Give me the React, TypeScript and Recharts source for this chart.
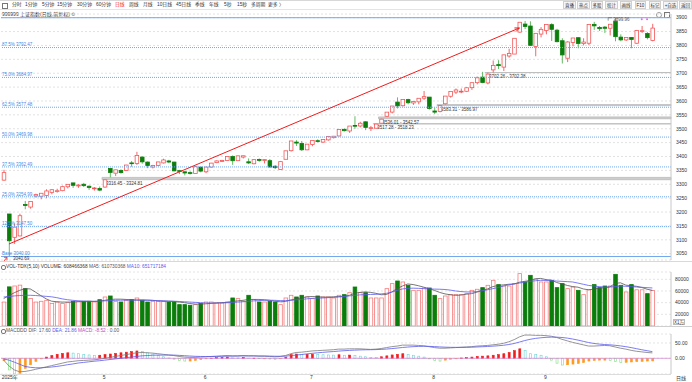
import React from 'react'
import {
  Bar,
  CartesianGrid,
  ComposedChart,
  Line,
  ReferenceArea,
  ReferenceDot,
  ReferenceLine,
  XAxis,
  YAxis,
} from 'recharts'

// 日线 (2025-04-03 ~ 2025-09-29)
const dates = [
  '04-03', '04-07', '04-08', '04-09', '04-10', '04-11', '04-14', '04-15', '04-16', '04-17', '04-18', '04-21', '04-22', '04-23', '04-24', '04-25', '04-28', '04-29', '04-30',
  '05-06', '05-07', '05-08', '05-09', '05-12', '05-13', '05-14', '05-15', '05-16', '05-19', '05-20', '05-21', '05-22', '05-23', '05-26', '05-27', '05-28', '05-29', '05-30',
  '06-03', '06-04', '06-05', '06-06', '06-09', '06-10', '06-11', '06-12', '06-13', '06-16', '06-17', '06-18', '06-19', '06-20', '06-23', '06-24', '06-25', '06-26', '06-27', '06-30',
  '07-01', '07-02', '07-03', '07-04', '07-07', '07-08', '07-09', '07-10', '07-11', '07-14', '07-15', '07-16', '07-17', '07-18', '07-21', '07-22', '07-23', '07-24', '07-25', '07-28', '07-29', '07-30', '07-31',
  '08-01', '08-04', '08-05', '08-06', '08-07', '08-08', '08-11', '08-12', '08-13', '08-14', '08-15', '08-18', '08-19', '08-20', '08-21', '08-22', '08-25', '08-26', '08-27', '08-28', '08-29',
  '09-01', '09-02', '09-03', '09-04', '09-05', '09-08', '09-09', '09-10', '09-11', '09-12', '09-15', '09-16', '09-17', '09-18', '09-19', '09-22', '09-23', '09-24', '09-25', '09-26', '09-29',
]
// 右侧留白的空位
const padSlots = ['p1', 'p2', 'p3']

const open = [
  3315, 3193, 3109, 3114, 3227, 3218, 3258, 3257, 3260, 3271, 3274, 3277, 3291, 3305, 3294, 3300, 3293, 3284, 3285,
  3290, 3357, 3340, 3350, 3350, 3377, 3375, 3398, 3380, 3362, 3368, 3377, 3384, 3380, 3349, 3345, 3342, 3339, 3362,
  3345, 3362, 3378, 3383, 3386, 3400, 3385, 3398, 3381, 3374, 3389, 3386, 3385, 3365, 3353, 3390, 3421, 3452, 3447, 3424,
  3443, 3457, 3452, 3460, 3468, 3474, 3497, 3492, 3512, 3510, 3525, 3502, 3502, 3520, 3545, 3560, 3596, 3583, 3605, 3593, 3597, 3610, 3614,
  3564, 3562, 3590, 3617, 3632, 3633, 3635, 3648, 3666, 3686, 3665, 3712, 3731, 3722, 3762, 3769, 3848, 3877, 3870, 3796, 3841,
  3854, 3875, 3855, 3817, 3754, 3811, 3828, 3807, 3808, 3876, 3865, 3866, 3862, 3887, 3830, 3820, 3829, 3808, 3851, 3843, 3818,
]
const high = [
  3352, 3193, 3159, 3194, 3240, 3239, 3266, 3268, 3282, 3283, 3284, 3295, 3300, 3305, 3300, 3305, 3296, 3290, 3292,
  3316.45, 3358, 3353, 3354, 3370, 3384, 3417, 3400, 3382, 3370, 3381, 3392, 3388, 3381, 3352, 3346, 3347, 3366, 3362,
  3364, 3377, 3386, 3388, 3400, 3404, 3404, 3404, 3393, 3390, 3393, 3390, 3391, 3369, 3384, 3421, 3456, 3459, 3456, 3445,
  3458, 3462, 3462, 3474, 3474, 3497, 3502, 3510, 3545, 3525, 3527, 3510, 3517.28, 3536.01, 3560, 3582, 3613, 3606, 3608, 3600, 3610, 3636, 3614,
  3576, 3583.31, 3618, 3634, 3645, 3645, 3650, 3667, 3688, 3705, 3702.26, 3746, 3747, 3767, 3788, 3826, 3884, 3888, 3887, 3845, 3866,
  3876, 3880, 3860, 3826, 3815, 3827, 3830, 3826, 3876, 3885, 3870, 3870, 3877, 3899.96, 3840, 3830, 3830, 3856, 3870, 3848, 3878,
]
const low = [
  3313, 3040.69, 3085, 3113, 3210, 3212, 3252, 3246, 3250, 3264, 3270, 3275, 3285, 3287, 3287, 3290, 3280, 3277, 3275,
  3288, 3324.81, 3330, 3338, 3348, 3363, 3370, 3374, 3358, 3357, 3365, 3375, 3376, 3347, 3337, 3332, 3335, 3339, 3343,
  3340, 3360, 3376, 3380, 3385, 3370, 3385, 3393, 3373, 3372, 3381, 3375, 3362, 3355, 3352, 3390, 3418, 3438, 3420, 3423,
  3437, 3451, 3449, 3457, 3465, 3473, 3490, 3485, 3500, 3505, 3495, 3492, 3500, 3518.23, 3542.57, 3555, 3573, 3580, 3588, 3586, 3588, 3604, 3569,
  3553, 3559, 3586.97, 3612, 3625, 3628, 3632, 3640, 3660, 3664, 3660, 3702.38, 3715, 3708, 3756, 3769, 3846, 3859, 3800, 3761, 3829,
  3840, 3816, 3811, 3735, 3740, 3797, 3790, 3800, 3801, 3856, 3852, 3845, 3836, 3815, 3815, 3816, 3790, 3805, 3845, 3822, 3815,
]
const close = [
  3342.01, 3096.58, 3145.55, 3186.81, 3223.64, 3238.23, 3262.81, 3267.66, 3276.0, 3280.34, 3276.73, 3291.43, 3299.76, 3296.36, 3297.29, 3295.06, 3288.41, 3286.65, 3279.03,
  3316.11, 3342.67, 3352.0, 3342.0, 3369.24, 3374.87, 3403.95, 3380.82, 3367.46, 3367.58, 3380.48, 3387.57, 3380.19, 3348.37, 3346.84, 3340.69, 3339.93, 3363.45, 3347.49,
  3361.98, 3376.2, 3384.1, 3385.36, 3399.77, 3384.82, 3402.32, 3402.66, 3377.0, 3388.81, 3387.4, 3388.81, 3362.11, 3359.9, 3381.58, 3420.57, 3455.97, 3448.45, 3424.23, 3444.43,
  3457.75, 3454.79, 3461.15, 3472.32, 3473.13, 3497.48, 3493.05, 3509.68, 3510.18, 3519.65, 3505.0, 3503.78, 3516.83, 3534.48, 3559.79, 3581.86, 3582.3, 3605.73, 3593.66, 3597.94, 3609.71, 3615.72, 3573.21,
  3559.95, 3583.31, 3617.6, 3633.99, 3639.67, 3635.13, 3647.55, 3665.92, 3683.46, 3666.44, 3696.77, 3728.03, 3727.29, 3766.21, 3771.1, 3825.76, 3883.56, 3868.38, 3800.35, 3843.6, 3857.93,
  3875.53, 3858.13, 3813.56, 3765.88, 3812.51, 3826.84, 3807.29, 3812.22, 3875.31, 3870.6, 3860.5, 3861.87, 3876.34, 3831.66, 3820.09, 3828.58, 3821.83, 3853.64, 3853.3, 3828.11, 3862.53,
]

// 成交量 (X1万)
const volume = [
  41000, 67000, 68500, 70000, 64000, 47000, 41000, 42300, 44000, 38400, 41000, 38400, 40000, 42300, 42300, 42300, 42300, 41100, 45100,
  49700, 51400, 42300, 41100, 44000, 45100, 48000, 44000, 41100, 42300, 42300, 42300, 41100, 41100, 36600, 36600, 35500, 36600, 38400,
  41100, 41100, 39400, 39400, 41100, 48000, 46900, 42300, 52600, 45100, 41100, 41100, 42300, 41100, 36600, 48000, 52600, 49700, 52600, 49700,
  46900, 51400, 49700, 49700, 48000, 52600, 53700, 57100, 66800, 57100, 57100, 48000, 48000, 48000, 64000, 72600, 77100, 75400, 69700, 61100, 61100, 65100, 65100,
  52600, 46900, 51400, 53700, 53700, 53700, 55400, 61100, 62900, 65700, 69700, 78300, 70900, 68500, 68500, 72600, 89700, 75400, 86800, 80000, 75400,
  75400, 78300, 65700, 72600, 64000, 66800, 61100, 53700, 62000, 70900, 65700, 68500, 68500, 88500, 69700, 58300, 70900, 62000, 62000, 55400, 60846,
]
const volMa5 = [
  47000, 52000, 57000, 61000, 64000, 63500, 58000, 52000, 46500, 42500, 41500, 41000, 41000, 41000, 41500, 42000, 42300, 42000, 42500,
  44000, 45500, 46000, 46000, 45500, 45000, 44500, 44500, 44500, 44000, 43000, 42500, 42300, 42000, 41000, 40000, 38500, 37500, 37500,
  38000, 38800, 39500, 40000, 40500, 42000, 43000, 44000, 45500, 45500, 45500, 45000, 44000, 42500, 41500, 42000, 44500, 46500, 48000, 50000,
  50500, 50000, 49500, 49500, 50000, 50500, 51000, 52500, 56000, 57500, 58500, 57500, 56000, 53500, 54000, 58500, 64000, 68500, 72000, 71000, 69000, 66500, 64000,
  61000, 57500, 55000, 53500, 52500, 53000, 54500, 55500, 58000, 61000, 63500, 67500, 69500, 70500, 71500, 72000, 75000, 76500, 78000, 81000, 81500,
  79500, 78500, 74500, 72000, 69500, 67500, 66500, 63500, 62000, 63000, 65000, 65500, 67000, 73000, 74000, 70000, 69000, 68000, 66000, 63000, 61073,
]
const volMa10 = [
  49700, 50500, 51500, 52200, 52600, 52600, 52200, 51500, 50800, 50000, 48500, 46500, 45000, 44000, 43200, 42700, 42400, 42300, 42500,
  43000, 43500, 44000, 44200, 44300, 44300, 44300, 44300, 44000, 43800, 43500, 43200, 42800, 42500, 42000, 41500, 41000, 40500, 40000,
  39500, 39300, 39300, 39500, 39800, 40300, 40900, 41500, 42300, 43000, 43500, 44000, 44200, 44000, 43500, 43500, 44000, 44800, 45500, 46500,
  47300, 47800, 48000, 48500, 49000, 49700, 50500, 51500, 52500, 53300, 53800, 54000, 54200, 55000, 56000, 58000, 61000, 63500, 64500, 64800, 64500, 64000, 63500,
  63200, 63000, 62500, 61500, 60000, 59000, 58300, 58300, 59000, 60500, 62000, 64000, 66000, 68500, 70500, 72000, 73500, 75000, 76500, 77500, 78250,
  78000, 77500, 77000, 76500, 76000, 75400, 73500, 71500, 69500, 68500, 67500, 66800, 66800, 67500, 68500, 68000, 67500, 66800, 66300, 65700, 65172,
]

// MACD
const dif = [
  -6, -25, -38, -44, -43, -40, -36, -32, -28, -24, -20, -16, -12, -10, -8, -7, -6, -5, -3,
  0, 3, 6, 9, 12, 15, 18, 19, 18, 17, 15, 13, 11, 9, 6, 4, 3, 3, 4,
  5, 6, 7, 8, 9, 8, 8, 9, 8, 8, 7, 7, 6, 5, 6, 9, 15, 19, 20, 22,
  24, 25, 26, 27, 28, 30, 30, 31, 31, 31, 30, 29, 30, 32, 35, 38, 40, 43, 43, 43, 42, 41, 38,
  35, 33, 33, 34, 35, 36, 37, 38, 40, 41, 42, 44, 46, 49, 54, 61, 70, 76, 76, 75, 75,
  74, 72, 68, 62, 57, 52, 48, 44, 40, 40, 41, 42, 41, 37, 33, 30, 26, 23, 21, 19, 17.6,
]
const dea = [
  -2, -6, -12.5, -19.5, -26.5, -29.5, -31, -31, -30, -28.5, -26.5, -24, -21, -18.5, -15.5, -13.5, -11.5, -9.5, -8,
  -6, -4, -2, 0, 2, 4, 6, 8, 9, 10, 10.5, 10.5, 10.5, 10.5, 9.6, 8.5, 7.4, 6.5, 6,
  5.8, 5.8, 6, 6.4, 7, 7.2, 7.4, 7.7, 7.8, 7.8, 7.6, 7.5, 7.2, 6.8, 6.6, 7.1, 8.7, 10.5, 12.4, 14.4,
  16.2, 17.9, 19.4, 20.8, 22, 23.5, 24.8, 25.8, 26.7, 27.4, 27.8, 28, 28.4, 29.1, 30.2, 31.7, 33.4, 35.3, 36.8, 38, 38.8, 39.2, 39,
  38.2, 37.2, 36.4, 35.9, 35.7, 35.7, 35.9, 36.3, 37, 37.8, 38.6, 39.7, 41, 42.6, 45, 48.4, 53, 58, 62, 65, 67,
  68.5, 69.2, 69, 68, 66, 63, 59.5, 55.5, 51.5, 48.5, 46.5, 45, 44, 42.5, 40.5, 38, 35, 31.5, 28, 24.8, 21.86,
]
const macd = [
  -8, -38, -51, -49, -33, -21, -10, -2, 4, 9, 13, 16, 18, 17, 15, 13, 11, 9, 10,
  12, 14, 16, 18, 20, 22, 24, 22, 18, 14, 9, 5, 1, -3, -7, -9, -9, -7, -4,
  -1.6, 0.4, 2, 3, 4, 1.6, 1.2, 2.6, 0.4, 0.4, -1.2, -1, -2.4, -3.6, -1.2, 3.8, 12, 14, 13, 13,
  13.5, 12.6, 11.6, 11, 10.4, 11.6, 10, 10.5, 9, 7, 5, 3, 2, 5, 8, 11, 13, 15, 13, 10, 7, 4, -2,
  -7, -9, -6, -3, -1, 1, 2, 4, 6, 7, 8, 10, 12, 15, 19, 25, 31, 25, 15, 12, 10,
  5, -6, -16, -22, -21, -19, -17, -14, -9, -7, -6, -6, -7, -11, -14, -13, -12, -11, -10, -9, -8.52,
]

// 坐标轴刻度
const priceTicks = [3050, 3100, 3150, 3200, 3250, 3300, 3350, 3400, 3450, 3500, 3550, 3600, 3650, 3700, 3750, 3800, 3850, 3900]
const volTicks = [20000, 40000, 60000, 80000]
const macdTicks = [0, 50]
const monthTicks = ['04-03', '05-06', '06-03', '07-01', '08-01', '09-01']
const monthLabels = ['2025年', '5', '6', '7', '8', '9']

// 黄金分割线
const fibPct = ['Base', '12.5%', '25.0%', '37.5%', '50.0%', '62.5%', '75.0%', '87.5%', '100%']
const fibVal = [3040.0, 3147.5, 3254.99, 3362.49, 3469.98, 3577.48, 3684.97, 3792.47, 3899.96]

// 缺口
const gapStart = ['05-06', '07-17', '07-18', '08-04', '08-15']
const gapLow = [3316.45, 3517.28, 3536.01, 3583.31, 3702.26]
const gapHigh = [3324.81, 3518.23, 3542.57, 3586.97, 3702.38]

// 趋势线
const trendX = ['04-07', '08-25']
const trendY = [3085, 3863]

const FONT = "'Liberation Sans', 'Noto Sans CJK SC', sans-serif"
const RED = '#f25555'
const RED_VOL = '#f77b7b'
const GREEN = '#0b7d0b'
const GREEN_WICK = '#55b355'
const BLUE = '#5a5af0'
const FIB = '#6fa8f0'

const rows = [
  ...dates.map((d, i) => ({
    d,
    o: open[i],
    h: high[i],
    l: low[i],
    c: close[i],
    range: [low[i], high[i]],
    v: volume[i],
    ma5: volMa5[i],
    ma10: volMa10[i],
    dif: dif[i],
    dea: dea[i],
    m: macd[i],
    mp: i > 0 ? macd[i - 1] : macd[i],
  })),
  ...padSlots.map((d) => ({ d })),
]
const lastSlot = padSlots[padSlots.length - 1]

function Candle(props: any) {
  const { x, y, width, height, payload } = props
  if (!payload || payload.o == null) return null
  const top = Math.min(y, y + height)
  const hgt = Math.abs(height)
  const { o, c, l } = payload
  const hi = payload.h
  const span = hi - l || 1
  const py = (v: number) => top + ((hi - v) / span) * hgt
  const cx = x + width / 2
  const up = c >= o
  const bTop = py(Math.max(o, c))
  const bh = Math.max(py(Math.min(o, c)) - bTop, 0.8)
  const wick = up ? RED : GREEN_WICK
  return (
    <g>
      <line x1={cx} x2={cx} y1={top} y2={bTop} stroke={wick} strokeWidth={0.9} />
      <line x1={cx} x2={cx} y1={bTop + bh} y2={top + hgt} stroke={wick} strokeWidth={0.9} />
      <rect
        x={cx - 1.8}
        y={bTop}
        width={3.6}
        height={bh}
        fill={up ? '#fff' : GREEN}
        stroke={up ? RED : GREEN}
        strokeWidth={0.8}
      />
    </g>
  )
}

function VolBar(props: any) {
  const { x, y, width, height, payload } = props
  if (!payload || payload.v == null) return null
  const up = payload.c >= payload.o
  const cx = x + width / 2
  return (
    <rect
      x={cx - 1.8}
      y={Math.min(y, y + height)}
      width={3.6}
      height={Math.abs(height)}
      fill={up ? '#fff' : GREEN}
      stroke={up ? RED_VOL : GREEN}
      strokeWidth={0.8}
    />
  )
}

function MacdBar(props: any) {
  const { x, y, width, height, payload } = props
  if (!payload || payload.m == null) return null
  const pos = payload.m >= 0
  const rising = payload.m >= payload.mp
  let fill = '#f21b1b'
  let stroke = '#f21b1b'
  if (pos && !rising) {
    fill = '#fff'
    stroke = '#6fd3d3'
  } else if (!pos && rising) {
    fill = '#ff9a1f'
    stroke = '#ff9a1f'
  } else if (!pos) {
    fill = '#fff'
    stroke = '#7ae07a'
  }
  const cx = x + width / 2
  return (
    <rect
      x={cx - 1}
      y={Math.min(y, y + height)}
      width={2}
      height={Math.max(Math.abs(height), 0.5)}
      fill={fill}
      stroke={stroke}
      strokeWidth={0.6}
    />
  )
}

function FibLabel({ viewBox, text }: any) {
  if (!viewBox) return null
  return (
    <text x={viewBox.x + 1} y={viewBox.y - 1.2} fontSize={4.5} fill="#3f8ae6">
      {text}
    </text>
  )
}

function GapLabel({ viewBox, text }: any) {
  if (!viewBox) return null
  return (
    <text x={viewBox.x + 4} y={viewBox.y + viewBox.height + 5} fontSize={4.5} fill="#333">
      {text}
    </text>
  )
}

// 趋势线 + 箭头
function TrendShape(props: any) {
  const { x1, y1, x2, y2 } = props
  const ang = Math.atan2(y2 - y1, x2 - x1)
  const s = 5
  const a1x = x2 - s * Math.cos(ang - 0.4)
  const a1y = y2 - s * Math.sin(ang - 0.4)
  const a2x = x2 - s * Math.cos(ang + 0.4)
  const a2y = y2 - s * Math.sin(ang + 0.4)
  return (
    <g>
      <line x1={x1} y1={y1} x2={x2} y2={y2} stroke="#f21b1b" strokeWidth={1} />
      <polyline points={`${a1x},${a1y} ${x2},${y2} ${a2x},${a2y}`} fill="none" stroke="#f21b1b" strokeWidth={1} />
    </g>
  )
}

function LowMark({ cx, cy }: any) {
  return (
    <g>
      <line x1={cx - 6} y1={cy + 6} x2={cx - 2} y2={cy + 1} stroke="#f21b1b" strokeWidth={0.8} />
      <polyline points={`${cx - 5},${cy + 1} ${cx - 2},${cy + 1} ${cx - 2},${cy + 4}`} fill="none" stroke="#f21b1b" strokeWidth={0.8} />
      <text x={cx + 4} y={cy + 3.5} fontSize={4.5} fill="#333">3040.69</text>
    </g>
  )
}

function HighMark({ cx, cy }: any) {
  return (
    <g>
      <polyline points={`${cx - 7},${cy + 3} ${cx - 7},${cy} ${cx - 3},${cy}`} fill="none" stroke="#555" strokeWidth={0.6} />
      <text x={cx - 2} y={cy + 2.8} fontSize={4.5} fill="#555">3899.96</text>
    </g>
  )
}

function MonthTick({ x, y, payload }: any) {
  const label = monthLabels[monthTicks.indexOf(payload.value)]
  return (
    <text x={x - 2} y={y + 4} fontSize={5} fill="#333">
      {label}
    </text>
  )
}

const axisTick = { fontSize: 5, fill: '#333' }

const toolbarItems = ['分时', '1分钟', '5分钟', '15分钟', '30分钟', '60分钟', '日线', '周线', '月线', '10日线', '45日线', '季线', '年线', '5秒', '15秒', '多周期', '更多 〉']
const toolbarX = [12, 25, 42, 57, 77, 96, 115, 129, 143, 157, 176, 195, 209, 224, 237, 251, 268]
const buttons = ['直播', '热点', '多股', '统计', '画线', 'F10', '标记', '+自选', '返回']
const buttonX = [563, 577, 591, 605, 620, 635, 649, 663, 679]
const buttonW = [13, 13, 12, 13, 12, 11, 12, 15, 13]

function Toolbar() {
  return (
    <>
      <div style={{ position: 'absolute', left: 0, top: 0, width: 692, height: 10, borderBottom: '1px solid #e4e4e4', borderTop: '1px solid #d8d8d8', boxSizing: 'border-box' }} />
      <div style={{ position: 'absolute', left: 2, top: 2.5, width: 4, height: 4, border: '0.6px solid #777' }} />
      {toolbarItems.map((t, i) => (
        <div
          key={t}
          style={{ position: 'absolute', left: toolbarX[i], top: 2, fontSize: 4.8, lineHeight: '6px', whiteSpace: 'nowrap', color: t === '日线' ? '#f21b1b' : '#333' }}
        >
          {t}
        </div>
      ))}
      {buttons.map((t, i) => (
        <div
          key={t}
          style={{
            position: 'absolute', left: buttonX[i], top: 1, width: buttonW[i], height: 8, boxSizing: 'border-box',
            border: '0.6px solid #cfcfcf', background: '#f6f6f6', fontSize: 4.5, lineHeight: '7px', textAlign: 'center', whiteSpace: 'nowrap', color: '#333',
          }}
        >
          {t}
        </div>
      ))}
      <div style={{ position: 'absolute', left: 2, top: 11, fontSize: 5, lineHeight: '6px', whiteSpace: 'nowrap', color: '#333' }}>
        999999 上证指数(日线,前复权) <span style={{ color: '#777' }}>⚙</span>
      </div>
      <div style={{ position: 'absolute', left: 656, top: 11.5, width: 4, height: 4, borderRadius: 3, border: '0.6px solid #999' }} />
      <div style={{ position: 'absolute', left: 664, top: 11.5, width: 4, height: 4, border: '0.6px solid #777' }} />
    </>
  )
}

function PanelHeaders() {
  const dot = (top: number) => (
    <div style={{ position: 'absolute', left: 1, top, width: 3, height: 3, borderRadius: 2, border: '0.6px solid #777' }} />
  )
  return (
    <>
      <div style={{ position: 'absolute', left: 0, top: 261, width: 692, height: 0, borderTop: '1px solid #d9d9d9' }} />
      <div style={{ position: 'absolute', left: 0, top: 326, width: 692, height: 0, borderTop: '1px solid #cfcfcf' }} />
      <div style={{ position: 'absolute', left: 0, top: 374, width: 671, height: 0, borderTop: '1px solid #dcdcdc' }} />
      {dot(265)}
      <div style={{ position: 'absolute', left: 6, top: 264, fontSize: 4.8, lineHeight: '6px', whiteSpace: 'nowrap', color: '#333' }}>
        VOL-TDX(5,10) VOLUME: 608466368 <span style={{ color: '#555' }}>MA5: 610730368</span>{' '}
        <span style={{ color: BLUE }}>MA10: 651717184</span>
      </div>
      {dot(329)}
      <div style={{ position: 'absolute', left: 6, top: 328, fontSize: 4.8, lineHeight: '6px', whiteSpace: 'nowrap', color: '#555' }}>
        MACDDD DIF: 17.60 <span style={{ color: BLUE }}>DEA: 21.86</span>{' '}
        <span style={{ color: '#c04bc0' }}>MACD: -8.52</span> : 0.00
      </div>
      <div style={{ position: 'absolute', left: 673, top: 319, width: 12, height: 6, boxSizing: 'border-box', border: '0.6px solid #bbb', fontSize: 4.5, lineHeight: '5px', textAlign: 'center', color: '#333', whiteSpace: 'nowrap' }}>
        X1万
      </div>
      <div style={{ position: 'absolute', left: 676, top: 375, fontSize: 5, lineHeight: '6px', color: '#333' }}>日线</div>
    </>
  )
}

export default function App() {
  return (
    <div style={{ position: 'relative', width: 692, height: 382, background: '#fff', overflow: 'hidden', fontFamily: FONT, color: '#333' }}>
      <style>{'body{margin:0}'}</style>
      <Toolbar />

      {/* 主图 K线 */}
      <div style={{ position: 'absolute', left: 0, top: 0 }}>
        <ComposedChart width={692} height={262} data={rows} margin={{ top: 14, right: 0, bottom: 2, left: 1 }} barCategoryGap={0}>
          <CartesianGrid vertical={false} stroke="#e2e2e2" strokeDasharray="2 2" />
          <XAxis dataKey="d" hide />
          <YAxis
            orientation="right"
            domain={[3027.3, 3913.3]}
            ticks={priceTicks}
            interval={0}
            width={21}
            tick={axisTick}
            tickLine={false}
            tickSize={0}
            tickMargin={5}
            axisLine={{ stroke: '#c8c8c8' }}
            allowDataOverflow
          />
          {fibVal.map((v, i) => (
            <ReferenceLine
              key={fibPct[i]}
              y={v}
              stroke={FIB}
              strokeWidth={1}
              strokeDasharray={i === 0 || i === fibVal.length - 1 ? undefined : '1 1'}
              label={i === fibVal.length - 1 ? undefined : <FibLabel text={`${fibPct[i]} ${v.toFixed(2)}`} />}
            />
          ))}
          {gapStart.map((s, i) => (
            <ReferenceArea
              key={s + i}
              x1={s}
              x2={lastSlot}
              y1={gapLow[i]}
              y2={gapHigh[i]}
              fill="#cdcdcd"
              fillOpacity={1}
              stroke="#b9b9b9"
              strokeWidth={0.8}
              label={<GapLabel text={`${gapLow[i].toFixed(2)} - ${gapHigh[i].toFixed(2)}`} />}
            />
          ))}
          <Bar dataKey="range" shape={<Candle />} barSize={4} isAnimationActive={false} />
          <ReferenceLine
            segment={[
              { x: trendX[0], y: trendY[0] },
              { x: trendX[1], y: trendY[1] },
            ]}
            shape={<TrendShape />}
          />
          <ReferenceDot x="04-07" y={3040.69} shape={<LowMark />} />
          <ReferenceDot x="09-18" y={3899.96} shape={<HighMark />} />
          <ReferenceDot x="09-25" y={3894} r={1} fill="#ff55ff" stroke="none" />
          <ReferenceDot x="09-26" y={3894} r={1} fill="#ff55ff" stroke="none" />
        </ComposedChart>
      </div>

      {/* 成交量 */}
      <div style={{ position: 'absolute', left: 0, top: 262 }}>
        <ComposedChart width={692} height={64} data={rows} margin={{ top: 10, right: 0, bottom: 0, left: 1 }} barCategoryGap={0}>
          <CartesianGrid vertical={false} stroke="#e4e4e4" strokeDasharray="2 2" />
          <XAxis dataKey="d" hide />
          <YAxis
            orientation="right"
            domain={[0, 92500]}
            ticks={volTicks}
            interval={0}
            width={21}
            tick={axisTick}
            tickLine={false}
            tickSize={0}
            tickMargin={4}
            axisLine={{ stroke: '#c8c8c8' }}
            allowDataOverflow
          />
          <Bar dataKey="v" shape={<VolBar />} barSize={4} isAnimationActive={false} />
          <Line dataKey="ma5" stroke="#555" strokeWidth={0.8} dot={false} isAnimationActive={false} />
          <Line dataKey="ma10" stroke={BLUE} strokeWidth={0.8} dot={false} isAnimationActive={false} />
        </ComposedChart>
      </div>

      {/* MACD */}
      <div style={{ position: 'absolute', left: 0, top: 326 }}>
        <ComposedChart width={692} height={56} data={rows} margin={{ top: 8, right: 0, bottom: 0, left: 1 }} barCategoryGap={0}>
          <CartesianGrid vertical={false} stroke="#e4e4e4" strokeDasharray="2 2" />
          <XAxis
            dataKey="d"
            ticks={monthTicks}
            interval={0}
            height={8}
            tick={<MonthTick />}
            tickSize={1}
            tickMargin={0}
            axisLine={false}
            tickLine={{ stroke: '#ccc' }}
          />
          <YAxis
            orientation="right"
            domain={[-51.3, 79.4]}
            ticks={macdTicks}
            interval={0}
            width={21}
            tick={axisTick}
            tickFormatter={(v: number) => v.toFixed(2)}
            tickLine={false}
            tickSize={0}
            tickMargin={4}
            axisLine={{ stroke: '#c8c8c8' }}
            allowDataOverflow
          />
          <ReferenceLine y={0} stroke="#d58ad5" strokeWidth={0.8} />
          <Bar dataKey="m" shape={<MacdBar />} barSize={2} isAnimationActive={false} />
          <Line dataKey="dif" stroke="#7a7a7a" strokeWidth={0.8} dot={false} isAnimationActive={false} />
          <Line dataKey="dea" stroke={BLUE} strokeWidth={0.8} dot={false} isAnimationActive={false} />
        </ComposedChart>
      </div>

      <PanelHeaders />
    </div>
  )
}
